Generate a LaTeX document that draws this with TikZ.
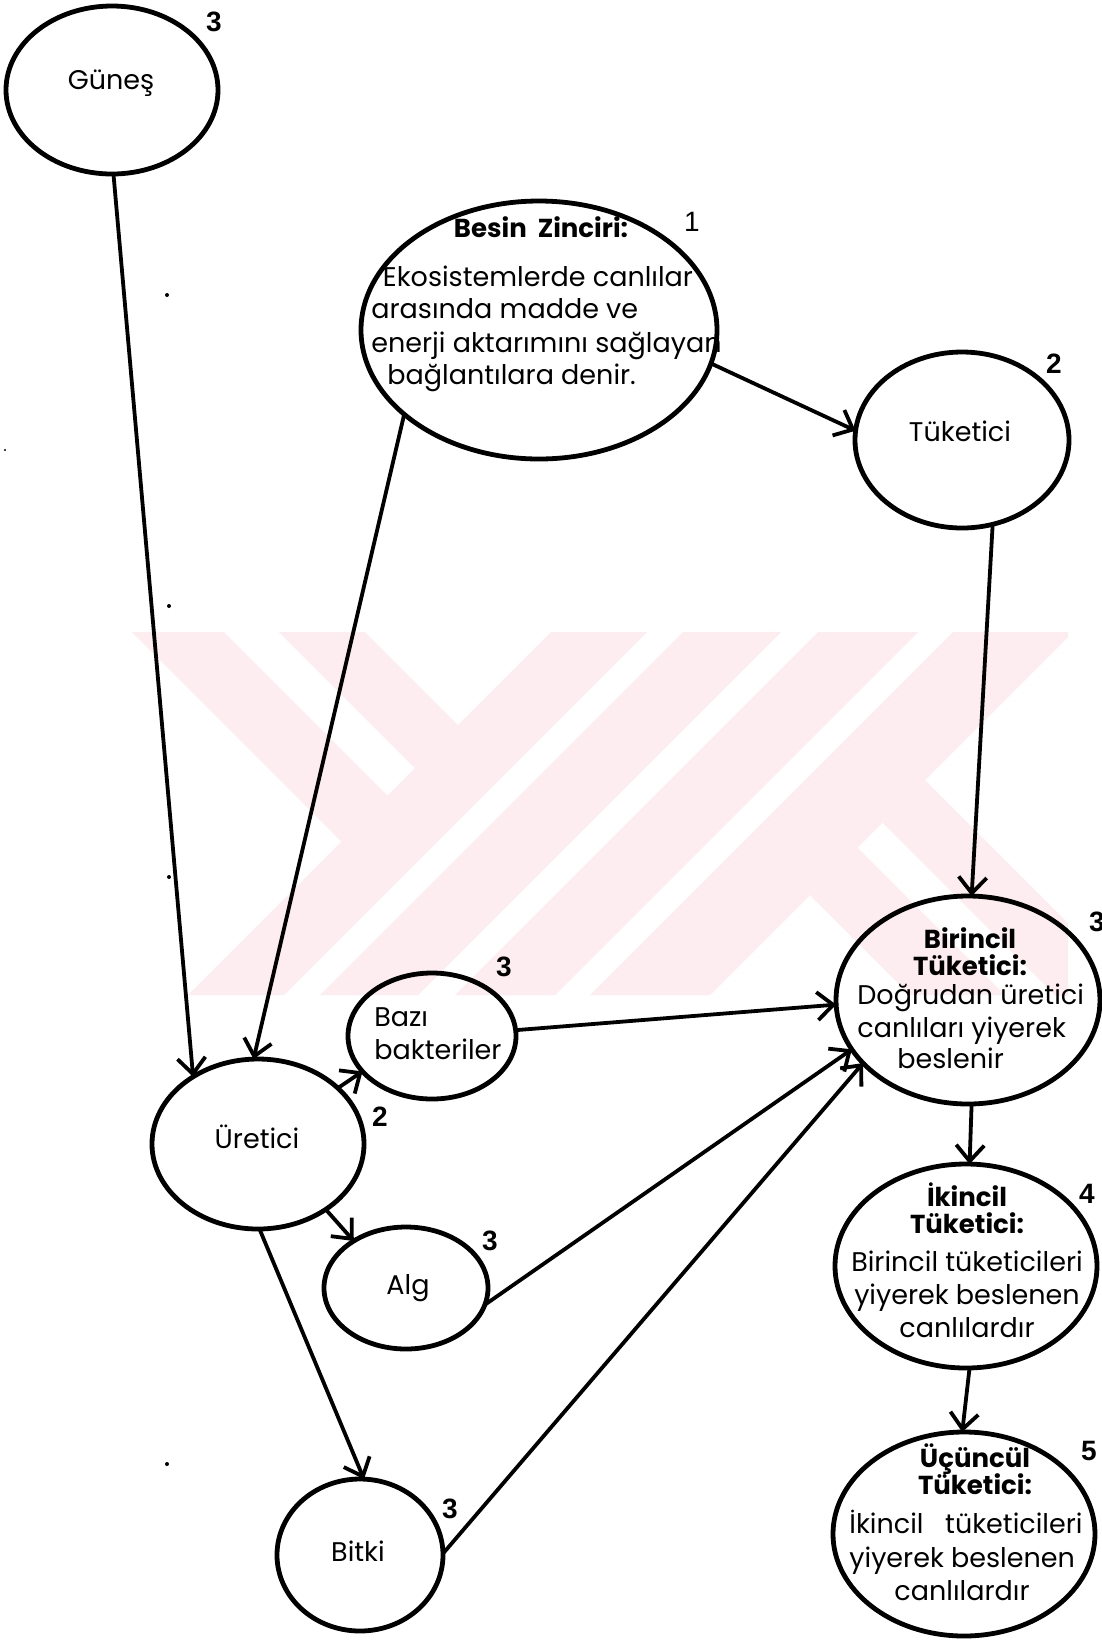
\documentclass[tikz,border=0pt]{standalone}
\usepackage{fontspec}
\setmainfont{Poppins}
\newfontfamily\numfont{Liberation Sans}
\usetikzlibrary{shapes.geometric,arrows.meta}
\definecolor{wm}{RGB}{253,237,240}
\begin{document}
\begin{tikzpicture}[x=0.5pt,y=-0.5pt,
  oval/.style={ellipse,draw,line width=2.4pt,inner sep=0pt,outer sep=0pt},
  conn/.style={line width=1.9pt,-{Straight Barb[length=8pt,width=14pt]}},
  txt/.style={inner sep=0pt,font=\fontsize{13.5}{16}\selectfont},
  head/.style={inner sep=0pt,font=\fontsize{13}{15}\selectfont\bfseries},
  num/.style={inner sep=0pt,font=\fontsize{14}{16}\selectfont\numfont\bfseries},
  numr/.style={inner sep=0pt,font=\fontsize{14}{16}\selectfont\numfont},
]
\useasboundingbox (0,0) rectangle (1102,1640);
\fill[white] (0,0) rectangle (1102,1640);
% watermark
\begin{scope}
\clip (132,632) rectangle (1068,995);
\fill[wm] (132,632) -- (224,632) -- (387.5,795.5) -- (341.5,841.5) -- cycle;
\fill[wm] (279,632) -- (365,632) -- (458,725) -- (415,768) -- cycle;
\fill[wm] (551,632) -- (647,632) -- (284,995) -- (188,995) -- cycle;
\fill[wm] (683,632) -- (781,632) -- (418,995) -- (320,995) -- cycle;
\fill[wm] (818,632) -- (918,632) -- (555,995) -- (455,995) -- cycle;
\fill[wm] (953,632) -- (1073,632) -- (710,995) -- (590,995) -- cycle;
\fill[wm] (810,895) -- (857.5,847.5) -- (1005,995) -- (910,995) -- cycle;
\fill[wm] (882.5,822.5) -- (925,780) -- (1300,1155) -- (1215,1155) -- cycle;
\end{scope}
% stray dots
\fill (167,295) circle[radius=1pt];
\fill (169,606) circle[radius=1pt];
\fill (169,877) circle[radius=1pt];
\fill (167,1464) circle[radius=1pt];
\fill (5,450) circle[radius=0.6pt];
% ellipses
\node[oval,minimum width=106pt,minimum height=84pt] (gunes) at (112,90) {};
\node[oval,minimum width=178pt,minimum height=129pt] (besin) at (539,330) {};
\node[oval,minimum width=107pt,minimum height=88pt] (tuk) at (962,440) {};
\node[oval,minimum width=132pt,minimum height=104pt] (bir) at (968,1000) {};
\node[oval,minimum width=131pt,minimum height=102pt] (ikin) at (966,1266) {};
\node[oval,minimum width=131pt,minimum height=102pt] (ucun) at (964,1534) {};
\node[oval,minimum width=84pt,minimum height=63pt] (bazi) at (432,1036) {};
\node[oval,minimum width=106pt,minimum height=85pt] (uret) at (258,1144) {};
\node[oval,minimum width=82pt,minimum height=61pt] (alg) at (406,1288) {};
\node[oval,minimum width=83pt,minimum height=76pt] (bitki) at (360,1555) {};
% connectors
\draw[conn] (gunes.-89) -- (uret.134);
\draw[conn] (besin.212) -- (uret.93);
\draw[conn] (besin.-11) -- (tuk.175);
\draw[conn] (tuk.-70) -- (bir.88);
\draw[conn] (bazi.4) -- (bir.182);
\draw[conn] (alg.-12) -- (bir.203);
\draw[conn] (bitki.1) -- (bir.211);
\draw[conn] (uret.35) -- (bazi.207);
\draw[conn] (uret.-44) -- (alg.138);
\draw[conn] (uret.-89) -- (bitki.87);
\draw[conn] (bir.-88) -- (ikin.88);
\draw[conn] (ikin.-88) -- (ucun.91);
% texts
\node[txt,anchor=base] (tgunes) at (111,89) {Güneş};
\node[head,anchor=base] (tbesin) at (541,237) {Besin\ \ Zinciri:};
\node[txt,anchor=base] (tb1) at (538,286) {Ekosistemlerde canlılar};
\node[txt,anchor=base west] (tb2) at (371,318) {arasında madde ve};
\node[txt,anchor=base west] (tb3) at (371,352) {enerji aktarımını sağlayan};
\node[txt,anchor=base west] (tb4) at (387,384) {bağlantılara denir.};
\node[txt,anchor=base] (ttuk) at (960,441) {Tüketici};
\node[head,anchor=base] (tbir1) at (970,948) {Birincil};
\node[head,anchor=base] (tbir2) at (970,975) {Tüketici:};
\node[txt,anchor=base west] (tbir3) at (857,1004) {Doğrudan üretici};
\node[txt,anchor=base west] (tbir4) at (857,1037) {canlıları yiyerek};
\node[txt,anchor=base west] (tbir5) at (897,1068) {beslenir};
\node[head,anchor=base] (tik1) at (967,1206) {İkincil};
\node[head,anchor=base] (tik2) at (967,1233) {Tüketici:};
\node[txt,anchor=base] (tik3) at (967,1271) {Birincil tüketicileri};
\node[txt,anchor=base] (tik4) at (967,1304) {yiyerek beslenen};
\node[txt,anchor=base] (tik5) at (967,1337) {canlılardır};
\node[head,anchor=base] (tuc1) at (975,1467) {Üçüncül};
\node[head,anchor=base] (tuc2) at (975,1494) {Tüketici:};
\node[txt,anchor=base west] (tuc3) at (849,1533) {İkincil\ \ \ tüketicileri};
\node[txt,anchor=base west] (tuc4) at (849,1567) {yiyerek beslenen};
\node[txt,anchor=base] (tuc5) at (962,1600) {canlılardır};
\node[txt,anchor=base west] (tbazi1) at (374,1026) {Bazı};
\node[txt,anchor=base west] (tbazi2) at (374,1059) {bakteriler};
\node[txt,anchor=base] (turet) at (257,1148) {Üretici};
\node[txt,anchor=base] (talg) at (408,1294) {Alg};
\node[txt,anchor=base] (tbitki) at (358,1561) {Bitki};
% numbers
\node[num] (ngunes) at (214,22) {3};
\node[numr] (nbesin) at (692,222) {1};
\node[num] (ntuk) at (1054,364) {2};
\node[num] (nbir) at (1097,922) {3};
\node[num] (nikin) at (1087,1194) {4};
\node[num] (nucun) at (1089,1451) {5};
\node[num] (nbazi) at (504,967) {3};
\node[num] (nuret) at (380,1117) {2};
\node[num] (nalg) at (490,1241) {3};
\node[num] (nbitki) at (450,1509) {3};
\end{tikzpicture}
\end{document}
